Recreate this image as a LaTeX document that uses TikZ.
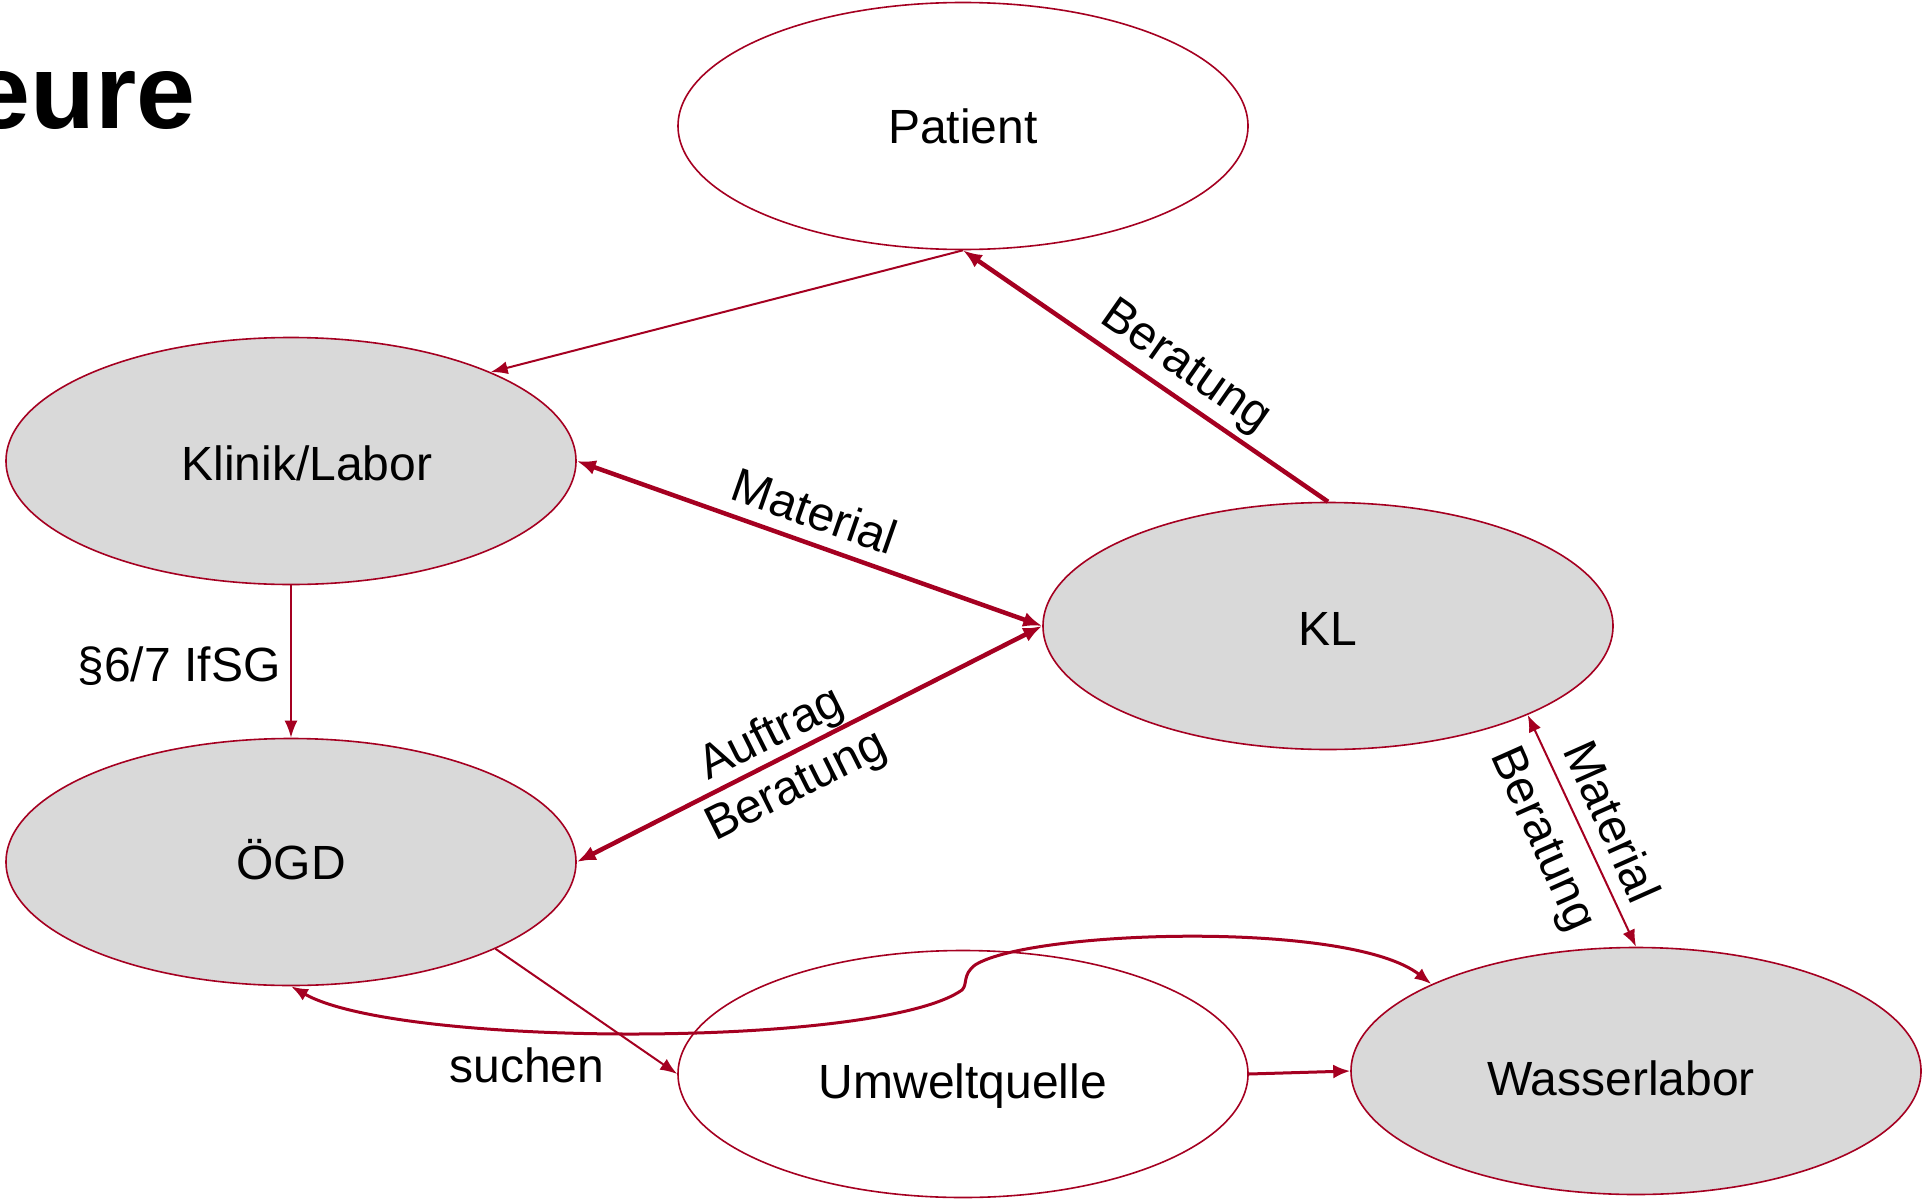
\documentclass[tikz,border=0pt]{standalone}
\usepackage{fontspec}
\setmainfont{Liberation Sans}
\usetikzlibrary{shapes.geometric,arrows.meta}
\definecolor{dred}{RGB}{165,0,33}
\definecolor{lgrey}{RGB}{217,217,217}
\begin{document}
\begin{tikzpicture}[x=1pt,y=-1pt,
  actor/.style={ellipse, draw=dred, line width=1.6pt, minimum width=570pt, minimum height=247pt,
    inner sep=0pt, text height=34pt, text depth=0pt, font=\fontsize{48}{58}\selectfont},
  filled/.style={actor, fill=lgrey},
  lbl/.style={font=\fontsize{48}{58}\selectfont, inner sep=0pt},
  thinline/.style={draw=dred, line width=2pt, arrows={-Latex[length=17pt,width=13pt]}},
  midline/.style={draw=dred, line width=3pt, arrows={-Latex[length=17pt,width=14pt]}},
  thickline/.style={draw=dred, line width=4.5pt, arrows={-Latex[length=19pt,width=15pt]}},
  both/.style={arrows={Latex[length=17pt,width=13pt]-Latex[length=17pt,width=13pt]}},
  boththick/.style={arrows={Latex[length=19pt,width=15pt]-Latex[length=19pt,width=15pt]}}
]
\fill[white] (0,0) rectangle (1922,1199);
\useasboundingbox (0,0) rectangle (1922,1199);

\node[font=\fontsize{106}{120}\selectfont\bfseries, anchor=base east, inner sep=0pt] (title) at (196,128) {eure};

\node[actor] (pat) at (963,126) {Patient};
\node[filled, text height=38pt] (klinik) at (291,461) {\hspace{32pt}Klinik/Labor};
\node[filled, text height=38pt] (kl) at (1328,626) {KL};
\node[filled] (oegd) at (291,862) {ÖGD};
\node[actor, text height=48pt] (umw) at (963,1074) {Umweltquelle};
\node[filled, text height=48pt] (wl) at (1636,1071) {Wasserlabor\hspace{30pt}\mbox{}};

\draw[thinline] (pat.south) -- (klinik.24);
\draw[thickline] (kl.north) -- (pat.south);
\draw[thickline, boththick] (klinik.east) -- (kl.west);
\draw[thinline] (klinik.south) -- (oegd.north);
\draw[thickline, boththick] (oegd.east) -- (kl.west);
\draw[thinline, both] (kl.-24) -- (wl.north);
\draw[thinline] (oegd.-23.5) -- (umw.west);
\draw[midline] (umw.east) -- (wl.west);
\draw[midline, both] (oegd.south) .. controls (400,1048) and (880,1048) .. (962,990)
  .. controls (968,984) and (962,975) .. (975,965)
  .. controls (1030,930) and (1350,920) .. (wl.157);

\node[lbl, rotate=-35] (lbera1) at (1185,368) {Beratung};
\node[lbl, rotate=-19.3] (lmat1) at (815,511) {Material};
\node[lbl, rotate=26.6] (lauf) at (772,735) {Auftrag};
\node[lbl, rotate=26.6] (lbera2) at (797,788) {Beratung};
\node[lbl, rotate=-66] (lmat2) at (1613,821) {Material};
\node[lbl, rotate=-66] (lbera3) at (1541,840) {Beratung};
\node[lbl] (lifsg) at (179,666) {§6/7 IfSG};
\node[lbl] (lsuch) at (527,1065) {suchen};
\end{tikzpicture}
\end{document}
